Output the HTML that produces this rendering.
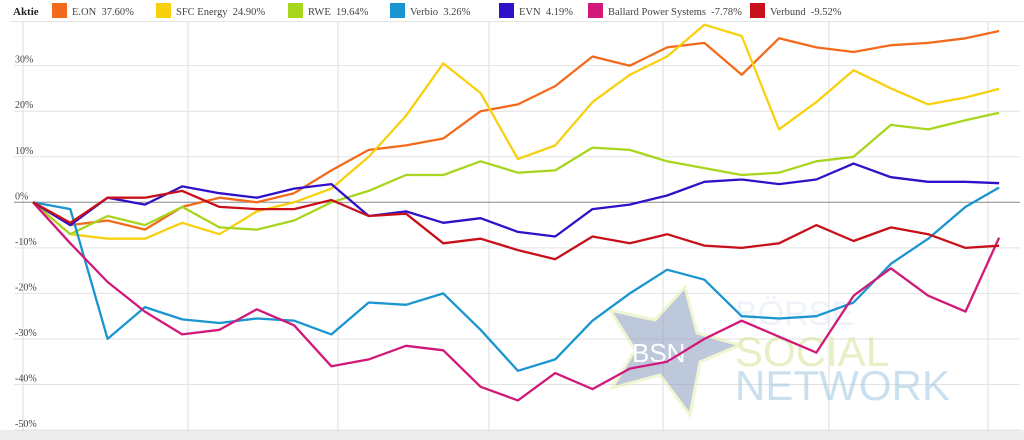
<!DOCTYPE html>
<html><head><meta charset="utf-8"><style>
body{margin:0;background:#fff;font-family:"Liberation Serif",serif;}
#wrap{position:relative;width:1024px;height:440px;overflow:hidden;}
</style></head><body>
<div id="wrap">
<svg id="chart" width="1024" height="440"></svg>
</div>
<script>
const seriesNames=["E.ON","SFC Energy","RWE","Verbio","EVN","Ballard Power Systems","Verbund"];
const seriesLabels=["37.60%","24.90%","19.64%","3.26%","4.19%","-7.78%","-9.52%"];
const seriesColors=["#f26b1d","#f8d00f","#a8d51d","#1a95cf","#3010c8","#d1197a","#c8101a"];
const xIndex=[0,1,2,3,4,5,6,7,8,9,10,11,12,13,14,15,16,17,18,19,20,21,22,23,24,25,25.9];
const eon=[0,-5,-4,-6,-1,1,0,2,7,11.5,12.5,14,20,21.5,25.5,32,30,34,35,28,36,34,33,34.5,35,36,37.6];
const sfc=[0,-7,-8,-8,-4.5,-7,-2,0,3,10,19,30.5,24,9.5,12.5,22,28,32,39,36.5,16,22,29,25,21.5,23,24.9];
const rwe=[0,-7,-3,-5,-1,-5.5,-6,-4,0,2.5,6,6,9,6.5,7,12,11.5,9,7.5,6,6.5,9,10,17,16,18,19.64];
const verbio=[0,-1.5,-30,-23,-25.7,-26.5,-25.5,-26,-29,-22,-22.5,-20,-28,-37,-34.5,-26,-20,-14.8,-17,-25,-25.5,-25,-22,-13.5,-8,-1,3.26];
const evn=[0,-5,1,-0.5,3.5,2,1,3,4,-3,-2,-4.5,-3.5,-6.5,-7.5,-1.5,-0.5,1.5,4.5,5,4,5,8.5,5.5,4.5,4.5,4.19];
const ballard=[0,-9,-17.5,-24,-29,-28,-23.5,-27,-36,-34.5,-31.5,-32.5,-40.5,-43.5,-37.5,-41,-36.5,-35,-30,-26,-29.5,-33,-20.5,-14.5,-20.5,-24,-7.78];
const verbund=[0,-4.5,1,1,2.5,-1,-1.5,-1.5,0.5,-3,-2.5,-9,-8,-10.5,-12.5,-7.5,-9,-7,-9.5,-10,-9,-5,-8.5,-5.5,-7,-10,-9.52];
const yTicks=[30,20,10,0,-10,-20,-30,-40,-50];
const allSeries=[eon,sfc,rwe,verbio,evn,ballard,verbund];

const NS="http://www.w3.org/2000/svg";
const svg=document.getElementById('chart');
function X(i){return 33+i*37.3;}
function Y(v){return 202.3-v*4.555;}
function mk(tag,attrs,parent){const e=document.createElementNS(NS,tag);for(const k in attrs)e.setAttribute(k,attrs[k]);(parent||svg).appendChild(e);return e;}

const band=mk('rect',{x:0,y:430,width:1024,height:10,fill:'#ececec'});


[23,188,338,489,663,829,988].forEach(x=>{
 const l=mk('line',{x1:x,x2:x,y1:22,y2:432,stroke:'#ddd','stroke-width':1});
 
 
});
yTicks.forEach(t=>{
 const y=Y(t);
 const l=mk('line',{x1:14,x2:1020,y1:y,y2:y,stroke:t===0?'#888':'#e2e2e2','stroke-width':1});
 
 
 const tx=mk('text',{x:15,y:y-3,'font-size':10,fill:'#444','font-family':'Liberation Serif, serif'});
 tx.textContent=t+'%';
 
 
});
const wm=mk('g',{opacity:0.55});


mk('polygon',{points:'685,287 697,333 740,345 700,362 690,415 660,375 612,388 635,350 610,310 655,320',fill:'#8a9cbf',stroke:'#e4eeae','stroke-width':3},wm);
const t1=mk('text',{x:632,y:362,'font-size':26,fill:'#fff','font-family':'Liberation Sans, sans-serif'},wm);t1.textContent='BSN';
const t2=mk('text',{x:735,y:325,'font-size':34,fill:'#dfeaf3','font-family':'Liberation Sans, sans-serif'},wm);t2.textContent='BÖRSE';
const t3=mk('text',{x:735,y:366,'font-size':42,fill:'#d5e496','font-family':'Liberation Sans, sans-serif'},wm);t3.textContent='SOCIAL';
const t4=mk('text',{x:735,y:400,'font-size':42,fill:'#9fc7e2','font-family':'Liberation Sans, sans-serif',textLength:215},wm);t4.textContent='NETWORK';
allSeries.forEach((s,k)=>{
 const d=s.map((v,i)=>(i?'L':'M')+X(xIndex[i]).toFixed(1)+','+Y(v).toFixed(1)).join(' ');
 const p=mk('path',{d:d,fill:'none',stroke:seriesColors[k],'stroke-width':2.3,'stroke-linejoin':'round'});
 
 
});
const lg=mk('rect',{x:0,y:0,width:1024,height:21,fill:'#fff'});


mk('line',{x1:10,x2:1024,y1:21.5,y2:21.5,stroke:'#e5e5e5'});
const ak=mk('text',{x:13,y:15,'font-size':11,'font-weight':'bold',fill:'#222'});
ak.textContent='Aktie';


const lx=[52,156,288,390,499,588,750];
seriesNames.forEach((n,k)=>{
 const g=mk('g',{});
 
 
 mk('rect',{x:lx[k],y:3,width:15,height:15,fill:seriesColors[k]},g);
 const t=mk('text',{x:lx[k]+20,y:15,'font-size':10.5,fill:'#444'},g);
 t.textContent=n+'  '+seriesLabels[k];
 t.setAttribute('xml:space','preserve');
 t.style.whiteSpace='pre';
});
</script>
</body></html>
